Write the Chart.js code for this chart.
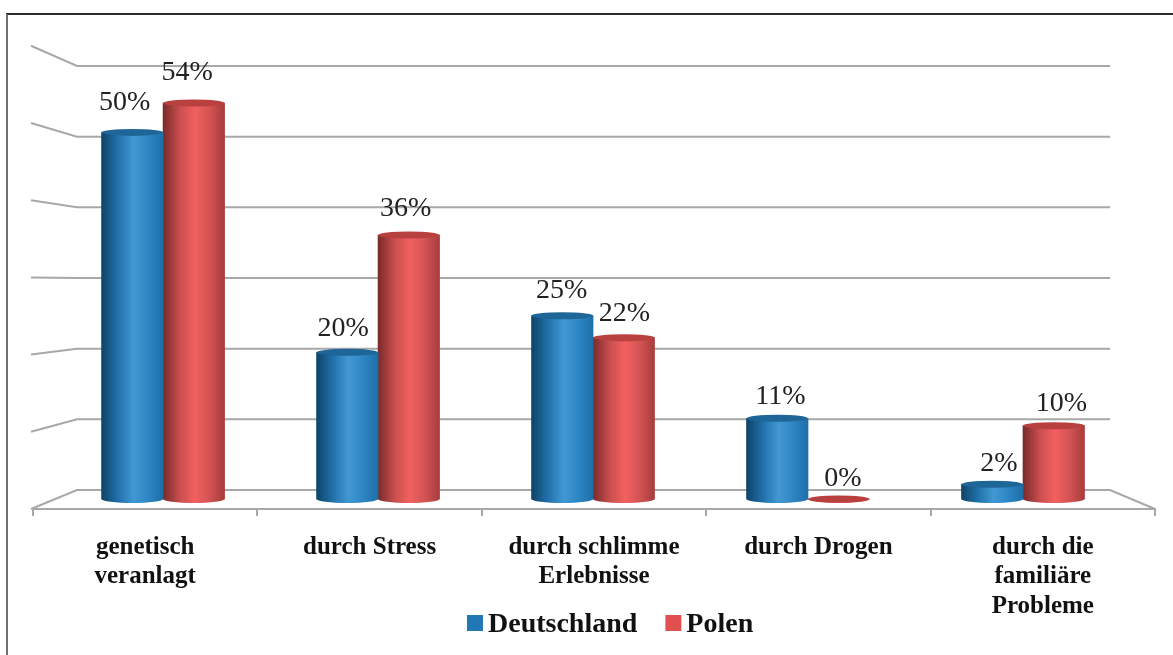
<!DOCTYPE html>
<html>
<head>
<meta charset="utf-8">
<title>Ursachen</title>
<script src="https://cdn.jsdelivr.net/npm/chart.js@4"></script>
<style>
  html, body { margin: 0; padding: 0; background: #fff; overflow: hidden; }
  #wrap { position: relative; width: 1173px; height: 655px; }
  #frame { position: absolute; left: 6px; top: 13px; right: 0; bottom: 0; border-top: 2px solid #2a2a2a; border-left: 2px solid #6e6e6e; pointer-events: none; }
</style>
</head>
<body>
<div id="wrap">
  <canvas id="chart" width="1173" height="655"></canvas>
  <div id="frame"></div>
</div>
<script>
const categories = [
  ['genetisch', 'veranlagt'],
  'durch Stress',
  ['durch schlimme', 'Erlebnisse'],
  'durch Drogen',
  ['durch die', 'familiäre', 'Probleme']
];
const deutschland = [50, 20, 25, 11, 2];
const polen = [54, 36, 22, 0, 10];
const wallTicks = [0, 10, 20, 30, 40, 50, 60];

const blueStops = ['#0e4468', '#2273ad', '#4298d2', '#2e86c4', '#1d6fa8'];
const redStops = ['#7a2a2a', '#cb4f4f', '#f26060', '#d45454', '#a83c3c'];
const blueTop = '#1f6698';
const redTop = '#b8403f';
const legendColors = ['#2277b5', '#e0504f'];
const gridColor = '#a8a8a8';
const barWidth = 61.5;

// Horizontal shading across one cylinder, built from the bar scale
function cylinderFill(ctx, stops, side) {
  const chart = ctx.chart;
  const xs = chart.scales.xBars;
  if (!xs || !chart.chartArea) return stops[2];
  const c = xs.getPixelForValue(ctx.dataIndex);
  const x0 = side < 0 ? c - barWidth : c;
  const g = chart.ctx.createLinearGradient(x0, 0, x0 + barWidth, 0);
  [0, 0.28, 0.52, 0.75, 1].forEach((p, i) => g.addColorStop(p, stops[i]));
  return g;
}

// Back wall, side wall and floor edges
const wallPlugin = {
  id: 'wall',
  beforeDatasetsDraw(chart) {
    const { ctx, chartArea, scales } = chart;
    const backLeft = chartArea.left + 44;
    const backRight = chartArea.right - 45;
    ctx.save();
    ctx.strokeStyle = gridColor;
    ctx.lineWidth = 2;
    wallTicks.forEach(v => {
      const yBack = scales.yWall.getPixelForValue(v);
      const yFront = scales.yFront.getPixelForValue(v);
      ctx.beginPath();
      ctx.moveTo(chartArea.left - 2, yFront);
      ctx.lineTo(backLeft, yBack);
      ctx.lineTo(backRight, yBack);
      if (v === 0) ctx.lineTo(chartArea.right, yFront);
      ctx.stroke();
    });
    ctx.restore();
  }
};

// Round caps and value labels; Polen goes last so its caps overlap Deutschland
const capsPlugin = {
  id: 'caps',
  afterDatasetsDraw(chart) {
    const { ctx } = chart;
    ctx.save();
    chart.data.datasets.forEach((ds, i) => {
      const topColor = i === 0 ? blueTop : redTop;
      chart.getDatasetMeta(i).data.forEach(bar => {
        const r = bar.width / 2;
        ctx.fillStyle = bar.options.backgroundColor;
        ctx.beginPath();
        ctx.ellipse(bar.x, bar.base, r, 4, 0, 0, Math.PI);
        ctx.fill();
        ctx.fillStyle = topColor;
        ctx.beginPath();
        ctx.ellipse(bar.x, bar.y, r, 3.5, 0, 0, Math.PI * 2);
        ctx.fill();
      });
    });
    ctx.font = '28px "Liberation Serif"';
    ctx.fillStyle = '#222';
    ctx.textAlign = 'center';
    ctx.textBaseline = 'middle';
    chart.data.datasets.forEach((ds, i) => {
      chart.getDatasetMeta(i).data.forEach((bar, j) => {
        const v = ds.data[j].y;
        // labels drift outward with the perspective
        const dx = (bar.x - 593) * 0.0165;
        const dy = 20 + v * 0.19;
        ctx.fillText(v + '%', bar.x + dx, bar.y - dy);
      });
    });
    ctx.restore();
  }
};

// Legend row with the swatches set close to their text
const legendPlugin = {
  id: 'legendRow',
  afterDraw(chart) {
    const { ctx } = chart;
    let x = 467;
    const y = 623;
    ctx.save();
    ctx.font = 'bold 28px "Liberation Serif"';
    ctx.textAlign = 'left';
    ctx.textBaseline = 'middle';
    chart.data.datasets.forEach((ds, i) => {
      ctx.fillStyle = legendColors[i];
      ctx.fillRect(x, y - 8, 16, 16);
      ctx.fillStyle = '#111';
      ctx.fillText(ds.label, x + 21, y + 2);
      x += 21 + ctx.measureText(ds.label).width + 28;
    });
    ctx.restore();
  }
};

new Chart(document.getElementById('chart'), {
  type: 'bar',
  data: {
    labels: categories,
    datasets: [
      {
        label: 'Deutschland',
        data: deutschland.map((y, x) => ({ x, y })),
        xAxisID: 'xBars',
        yAxisID: 'y',
        borderWidth: 0,
        barThickness: barWidth,
        backgroundColor: ctx => cylinderFill(ctx, blueStops, -1)
      },
      {
        label: 'Polen',
        data: polen.map((y, x) => ({ x, y })),
        xAxisID: 'xBars',
        yAxisID: 'y',
        borderWidth: 0,
        barThickness: barWidth,
        backgroundColor: ctx => cylinderFill(ctx, redStops, 1)
      }
    ]
  },
  plugins: [wallPlugin, capsPlugin, legendPlugin],
  options: {
    responsive: false,
    animation: false,
    layout: { padding: { left: 33, right: 18, top: 40, bottom: 0 } },
    plugins: {
      tooltip: { enabled: false },
      legend: { display: false }
    },
    scales: {
      x: {
        type: 'category',
        offset: true,
        afterFit(scale) { scale.height = 146; },
        border: { display: true, color: gridColor, width: 2 },
        grid: { offset: true, drawOnChartArea: false, drawTicks: true, tickLength: 7, color: gridColor, lineWidth: 2 },
        ticks: {
          autoSkip: false,
          maxRotation: 0,
          padding: 17,
          color: '#111',
          font: { family: '"Liberation Serif"', size: 25, weight: 'bold', lineHeight: 1.17 }
        }
      },
      // bars stand on a narrower plane than the front axis
      xBars: { type: 'linear', display: false, offset: false, min: -0.605, max: 4.614, grid: { display: false } },
      y: { display: false, min: -1.364, max: 62.6, grid: { display: false } },
      yWall: { display: false, min: -2.689, max: 63.68, grid: { display: false } },
      yFront: { display: false, min: 0, max: 60.75, grid: { display: false } }
    }
  }
});
</script>
</body>
</html>
